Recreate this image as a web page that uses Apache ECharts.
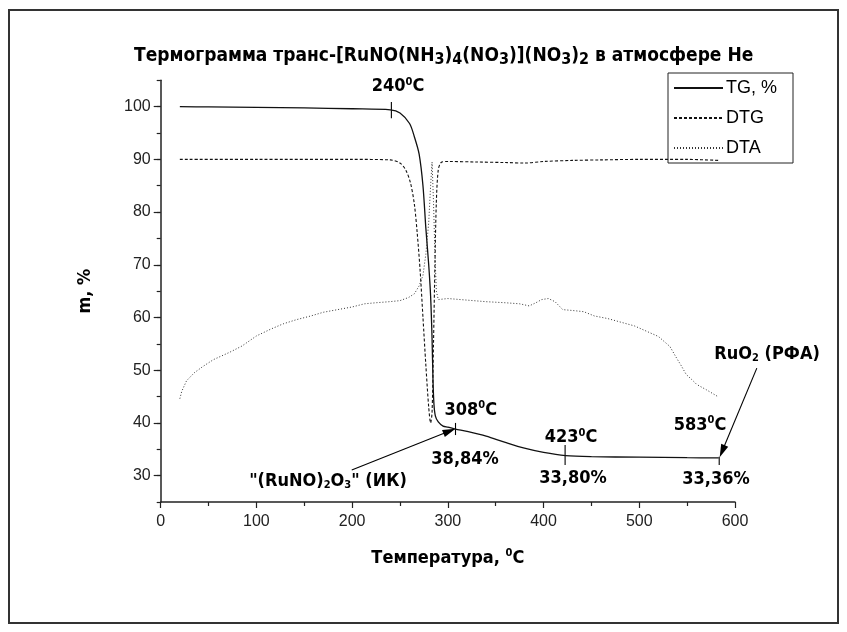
<!DOCTYPE html>
<html><head><meta charset="utf-8">
<script src="https://cdn.jsdelivr.net/npm/echarts@6/dist/echarts.min.js"></script>
<style>html,body{margin:0;padding:0;background:#fff}#c{width:847px;height:632px}</style>
</head><body><div id="c"></div>
<script>
// ---- data ----
const tgTemp = [20,50,100,150,200,240,250,260,265,270,274,277,280,282,283.5,284.5,285.5,287,290,295,300,308,320,340,360,380,400,423,450,500,550,583];
const tgMass = [100,99.95,99.85,99.75,99.6,99.4,98.8,96.8,94.3,91,85,77,70,64,56,48,43.5,41.3,40.2,39.4,39.2,38.84,38.4,37.5,36.3,35.2,34.4,33.8,33.6,33.5,33.4,33.36];

const dtgTemp = [20,100,200,240,250,256,261,265,268,271,274,277,280,282,283.5,285,286.5,288,290,293,300,330,360,380,400,430,460,500,550,583];
const dtgVal  = [90,90,90,89.9,89.3,88,85.5,81.5,76,69,60,51,43,40,42,55,70,82,88,89.4,89.6,89.5,89.4,89.3,89.6,89.8,89.9,90,90,89.8];

const dtaTemp = [20,22,27,35,44,55,72,85,100,115,128,142,157,170,185,200,213,225,239,250,259,265,270,274,277,280,282,283.5,285,286.5,288,290,300,320,340,360,375,385,392,398,405,412,420,432,442,453,467,481,495,510,520,532,538,544,549,555,560,570,583];
const dtaVal  = [44.6,46,48,49.5,50.7,52,53.4,54.6,56.5,57.8,58.8,59.6,60.3,61,61.5,62,62.6,62.8,63,63.2,63.8,64.5,66,68,72,78,85,89.5,82,72,65,63.4,63.6,63.3,63,62.8,62.6,62.2,62.8,63.4,63.6,63,61.5,61.3,61.1,60.3,59.8,59.1,58.4,57.2,56.4,54.5,52.6,50.8,49.2,48.2,47.3,46.3,44.9];

const seriesNames = ['TG, %', 'DTG', 'DTA'];
const titleText = '{t|Термограмма транс-[RuNO(NH}{d|3}{t|)}{d|4}{t|(NO}{d|3}{t|)](NO}{d|3}{t|)}{d|2}{t| в атмосфере He}';
const xAxisName = '{b|Температура, }{s|0}{b|C}';
const yAxisName = 'm, %';

// annotation texts and anchor points (data units)
const annText  = ['{b|240}{s|0}{b|C}', '{b|308}{s|0}{b|C}', '{b|38,84%}', '{b|"(RuNO)}{u|2}{b|O}{u|3}{b|" (ИК)}', '{b|423}{s|0}{b|C}', '{b|33,80%}', '{b|583}{s|0}{b|C}', '{b|33,36%}', '{b|RuO}{u|2}{b| (РФА)}'];
const annTemp  = [248, 324, 318, 174.8, 428.7, 430.7, 563.5, 580.2, 633.5];
const annMass  = [103.8, 42.45, 33.15, 28.98, 37.3, 29.55, 39.6, 29.26, 53.1];

// tick markers on TG curve and arrows: [t1, m1, t2, m2, arrowhead?]
const markT1 = [241, 308, 422.5, 583.5, 199.6, 622.8];
const markM1 = [100.9, 40.0, 35.8, 33.6, 31.06, 50.4];
const markT2 = [241, 308, 422.5, 583.5, 308, 584];
const markM2 = [97.8, 37.7, 32.0, 32.0, 38.9, 33.5];
const markArrow = [0, 0, 0, 0, 1, 1];

const yTicksMajor = [30,40,50,60,70,80,90,100];

// ---- chart ----
const NARROW = "'Liberation Sans Narrow','Arial Narrow','DejaVu Sans Condensed','Liberation Sans',sans-serif";
const REG = "'Liberation Sans',Arial,sans-serif";
const INK = '#000';
const zip = (a, b) => a.map((v, i) => [v, b[i]]);

const boldRich = {
  b: {fontFamily: NARROW, fontWeight: 'bold', fontSize: 18, lineHeight: 20, color: INK, opacity: 1},
  s: {fontFamily: NARROW, fontWeight: 'bold', fontSize: 11, lineHeight: 10, verticalAlign: 'top', color: INK, opacity: 1},
  u: {fontFamily: NARROW, fontWeight: 'bold', fontSize: 11, lineHeight: 10, verticalAlign: 'bottom', color: INK, opacity: 1}
};

function renderMark(params, api) {
  const p1 = api.coord([api.value(0), api.value(1)]);
  const p2 = api.coord([api.value(2), api.value(3)]);
  const children = [];
  let ex = p2[0], ey = p2[1];
  if (api.value(4)) {
    const dx = p2[0] - p1[0], dy = p2[1] - p1[1];
    const L = Math.sqrt(dx * dx + dy * dy);
    const ux = dx / L, uy = dy / L;
    const len = 13, hw = 3.8;
    const bx = p2[0] - ux * len, by = p2[1] - uy * len;
    ex = bx + ux * 2; ey = by + uy * 2;
    children.push({type: 'polygon', shape: {points: [[p2[0], p2[1]], [bx - uy * hw, by + ux * hw], [bx + uy * hw, by - ux * hw]]},
      style: {fill: '#000'}});
  }
  children.push({type: 'line', shape: {x1: p1[0], y1: p1[1], x2: ex, y2: ey}, style: {stroke: '#000', lineWidth: 1.1}});
  return {type: 'group', children};
}

const chart = echarts.init(document.getElementById('c'));
chart.setOption({
  animation: false,
  backgroundColor: '#fff',
  title: {
    text: titleText,
    left: 129, top: 39,
    textStyle: {
      rich: {
        t: {fontFamily: NARROW, fontWeight: 'bold', fontSize: 19, lineHeight: 24, color: INK},
        d: {fontFamily: NARROW, fontWeight: 'bold', fontSize: 16, lineHeight: 12, verticalAlign: 'bottom', color: INK}
      }
    }
  },
  graphic: [{
    type: 'rect', shape: {x: 9, y: 10, width: 829, height: 613},
    style: {fill: 'none', stroke: '#333', lineWidth: 2}, silent: true
  }],
  legend: {
    data: seriesNames,
    orient: 'vertical',
    left: 668, top: 73,
    padding: [6, 16, 6, 5],
    itemGap: 12, itemWidth: 49, itemHeight: 14,
    borderColor: '#222', borderWidth: 1,
    itemStyle: {opacity: 0},
    textStyle: {fontFamily: REG, fontSize: 18, color: INK, padding: [0, 0, 0, -2]},
    selectedMode: false
  },
  grid: {left: 160.7, right: 112, top: 80.3, bottom: 130},
  xAxis: {
    type: 'value', min: 0, max: 600, interval: 100,
    name: xAxisName, nameLocation: 'middle', nameGap: 46,
    nameTextStyle: {rich: boldRich},
    axisLine: {lineStyle: {color: '#222', width: 1.5}},
    axisTick: {length: 6, lineStyle: {color: '#222', width: 1.2}},
    minorTick: {show: true, splitNumber: 2, length: 4, lineStyle: {color: '#222', width: 1.2}},
    axisLabel: {fontFamily: REG, fontSize: 16, color: '#222', margin: 12},
    splitLine: {show: false}
  },
  yAxis: [{
    type: 'value', min: 25, max: 105, interval: 5,
    name: yAxisName, nameLocation: 'middle', nameGap: 66,
    nameTextStyle: {fontFamily: NARROW, fontWeight: 'bold', fontSize: 18, color: INK},
    axisLine: {show: true, lineStyle: {color: '#222', width: 1.5}},
    axisTick: {show: true, length: 4, lineStyle: {color: '#222', width: 1.2}},
    axisLabel: {fontFamily: REG, fontSize: 16, color: '#222', margin: 10,
      formatter: v => (yTicksMajor.indexOf(v) >= 0 ? String(v) : '')},
    splitLine: {show: false}
  }, {
    type: 'value', min: 25, max: 105, position: 'left',
    axisLine: {show: false},
    axisTick: {show: true, length: 7, customValues: yTicksMajor, lineStyle: {color: '#222', width: 1.2}},
    axisLabel: {show: false},
    splitLine: {show: false}
  }],
  series: [{
    name: seriesNames[0], type: 'line', data: zip(tgTemp, tgMass),
    symbol: 'none', showSymbol: false, smooth: 0.3,
    lineStyle: {color: '#111', width: 1.3, type: 'solid'}, itemStyle: {color: '#111'}
  }, {
    name: seriesNames[1], type: 'line', data: zip(dtgTemp, dtgVal),
    symbol: 'none', showSymbol: false, smooth: 0.3,
    lineStyle: {color: '#111', width: 1.1, type: [3, 2]}, itemStyle: {color: '#111'}
  }, {
    name: seriesNames[2], type: 'line', data: zip(dtaTemp, dtaVal),
    symbol: 'none', showSymbol: false,
    lineStyle: {color: '#333', width: 1, type: [1, 2]}, itemStyle: {color: '#333'}
  }, {
    name: 'ann', type: 'scatter', symbolSize: 0, clip: false, silent: true,
    itemStyle: {opacity: 1, color: '#000'},
    data: annText.map((txt, i) => ({value: [annTemp[i], annMass[i]], label: {formatter: txt}})),
    label: {show: true, position: 'inside', color: INK, opacity: 1, rich: boldRich}
  }, {
    name: 'marks', type: 'custom', clip: false, silent: true,
    encode: {x: [0, 2], y: [1, 3]},
    data: markT1.map((t, i) => [t, markM1[i], markT2[i], markM2[i], markArrow[i]]),
    renderItem: renderMark
  }]
});
</script></body></html>
